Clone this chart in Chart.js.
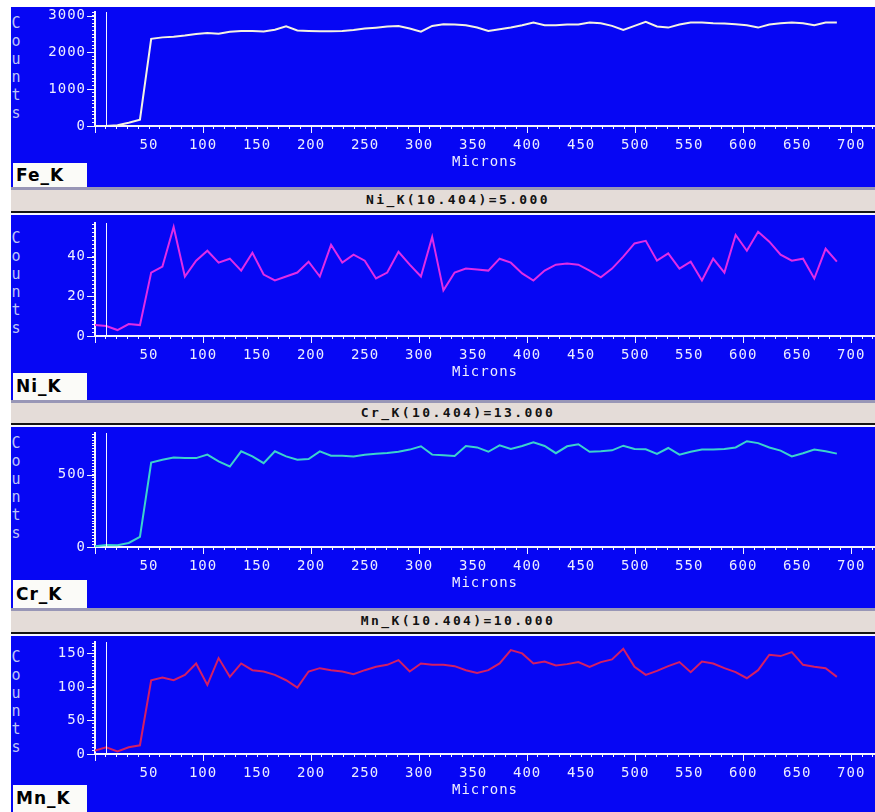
<!DOCTYPE html>
<html>
<head>
<meta charset="utf-8">
<script src="https://cdn.jsdelivr.net/npm/chart.js@4.4.0/dist/chart.umd.min.js"></script>
<style>
  body { margin: 0; background: #fff; width: 875px; height: 812px; position: relative; overflow: hidden; }
  .panel { position: absolute; left: 11px; width: 864px; background: #0606f4; }
  .panel canvas { position: absolute; left: 0; top: 0; }
  .counts { position: absolute; left: 0; width: 10px; font: 15px "DejaVu Sans Mono", monospace; line-height: 18px;
            color: #bcc2f4; text-align: center; white-space: pre; }
  .elem { position: absolute; left: 2px; bottom: 0; width: 74px; background: #fbfbf8; color: #000;
          font: bold 17px "DejaVu Sans", sans-serif; letter-spacing: 1px; padding-left: 3px; box-sizing: border-box; }
  .hdr { position: absolute; left: 11px; width: 864px; color: #121212; text-align: center;
         font: bold 13px "DejaVu Sans Mono", monospace; letter-spacing: 2.4px; box-sizing: border-box; padding-left: 30px;
         background: linear-gradient(to bottom, #9896b6 0 3px, #e4dcd8 3px calc(100% - 4px),
                     #141414 calc(100% - 4px) calc(100% - 2px), #f6f6ff calc(100% - 2px)); }
</style>
</head>
<body>
<script>
// sample positions along the line scan (microns)
const microns = [0, 10.4, 20.8, 31.2, 41.6, 52.0, 62.4, 72.8, 83.2, 93.6, 104.0, 114.4, 124.8, 135.3,
  145.7, 156.1, 166.5, 176.9, 187.3, 197.7, 208.1, 218.5, 228.9, 239.3, 249.7, 260.1, 270.5, 280.9,
  291.3, 301.7, 312.1, 322.5, 332.9, 343.3, 353.7, 364.1, 374.5, 384.9, 395.4, 405.8, 416.2, 426.6,
  437.0, 447.4, 457.8, 468.2, 478.6, 489.0, 499.4, 509.8, 520.2, 530.6, 541.0, 551.4, 561.8, 572.2,
  582.6, 593.0, 603.4, 613.8, 624.2, 634.6, 645.0, 655.4, 665.8, 676.3, 686.7];

const feK = [0, 0, 20, 90, 170, 2370, 2410, 2430, 2460, 2500, 2530, 2510, 2560, 2580, 2580, 2570, 2620,
  2710, 2600, 2585, 2575, 2575, 2585, 2612, 2650, 2675, 2705, 2720, 2650, 2566, 2720, 2767, 2760, 2740,
  2676, 2585, 2630, 2676, 2740, 2813, 2740, 2740, 2760, 2760, 2813, 2795, 2722, 2612, 2722, 2831, 2705,
  2676, 2760, 2813, 2813, 2795, 2786, 2767, 2740, 2676, 2760, 2795, 2813, 2795, 2740, 2813, 2813];

const niK = [5.5, 5, 3, 6, 5.5, 32, 35, 55, 30, 38, 43, 37, 39, 33, 42, 31, 28, 30, 32, 37.5, 30, 46,
  37, 41, 38, 29, 32, 42.5, 36, 30, 50, 23, 32, 34, 33.6, 33, 39, 37, 31.6, 28, 33, 36, 36.6, 36, 33,
  29.6, 34, 40, 46.7, 48, 38, 41.7, 34, 37.5, 28, 39, 32, 51, 43, 52.6, 47.6, 41, 38, 39, 29, 44, 37.5];

const crK = [5, 13, 12, 28, 70, 585, 605, 620, 616, 616, 640, 593, 558, 663, 628, 581, 663, 628, 605,
  610, 663, 633, 633, 628, 640, 647, 651, 660, 675, 698, 640, 635, 630, 700, 690, 660, 705, 680, 700,
  725, 700, 650, 698, 712, 660, 663, 670, 702, 679, 677, 645, 686, 640, 660, 675, 675, 679, 690, 733,
  720, 690, 668, 628, 650, 675, 663, 647];

const mnK = [5, 10, 4, 10, 13, 110, 114, 110, 118, 135, 103, 143, 115, 135, 125, 123, 118, 110, 99,
  123, 128, 125, 123, 119, 125, 130, 133, 140, 123, 135, 133, 133, 131, 125, 121, 125, 135, 155, 150,
  135, 138, 132, 134, 137, 130, 137, 141, 157, 130, 118, 124, 131, 137, 122, 138, 135, 128, 122, 113,
  125, 148, 146, 152, 133, 130, 128, 115];

const xLabels = [50, 100, 150, 200, 250, 300, 350, 400, 450, 500, 550, 600, 650, 700];
const feTicks = [0, 1000, 2000, 3000];
const niTicks = [0, 20, 40];
const crTicks = [0, 500];
const mnTicks = [0, 50, 100, 150];
const cursorMicrons = 10.404;
const headers = ['Ni_K(10.404)=5.000', 'Cr_K(10.404)=13.000', 'Mn_K(10.404)=10.000'];

const panels = [
  { name: 'Fe_K', data: feK, labels: feTicks, color: '#f4f2e2', max: 3100, step: 100, top: 7, h: 180, axis: 119, plot: 5, letters: 16, box: 24 },
  { name: 'Ni_K', data: niK, labels: niTicks, color: '#e02ce6', max: 57, step: 2, top: 215, h: 185, axis: 121, plot: 8, letters: 23, box: 27 },
  { name: 'Cr_K', data: crK, labels: crTicks, color: '#3cd2cc', max: 790, step: 20, top: 427, h: 181, axis: 120, plot: 6, letters: 16, box: 28 },
  { name: 'Mn_K', data: mnK, labels: mnTicks, color: '#d41e64', max: 167, step: 5, top: 636, h: 176, axis: 118, plot: 6, letters: 21, box: 27 },
];
const headerTops = [{ top: 187, h: 28 }, { top: 400, h: 27 }, { top: 608, h: 28 }];

const AXIS = '#f4f4ff';
const TEXT = '#ececff';
const MONO = '"DejaVu Sans Mono", monospace';

const axisDecor = {
  id: 'axisDecor',
  beforeDraw(chart) { chart.ctx.letterSpacing = '1px'; },
  afterDraw(chart, args, opts) {
    const { ctx, chartArea, scales: { x, y } } = chart;
    ctx.save();
    ctx.strokeStyle = AXIS;
    ctx.lineWidth = 1;
    ctx.beginPath();
    // cursor line
    const cx = Math.round(x.getPixelForValue(cursorMicrons)) + 0.5;
    ctx.moveTo(cx, chartArea.top);
    ctx.lineTo(cx, chartArea.bottom);
    // longer ticks at the labelled positions
    x.ticks.forEach((t) => {
      if (t.value % 100 === 0) {
        const px = Math.round(x.getPixelForValue(t.value)) + 0.5;
        ctx.moveTo(px, chartArea.bottom);
        ctx.lineTo(px, chartArea.bottom + 7);
      }
    });
    opts.yMajor.forEach((v) => {
      const py = Math.round(y.getPixelForValue(v)) + 0.5;
      ctx.moveTo(chartArea.left - 8, py);
      ctx.lineTo(chartArea.left, py);
    });
    ctx.stroke();
    ctx.restore();
  },
};

const xTickValues = [];
for (let v = 0; v <= 720; v += 10) xTickValues.push(v);

panels.forEach((p) => {
  const div = document.createElement('div');
  div.className = 'panel';
  div.style.top = p.top + 'px';
  div.style.height = p.h + 'px';
  document.body.appendChild(div);

  const letters = document.createElement('div');
  letters.className = 'counts';
  letters.style.top = (p.letters - 9) + 'px';
  letters.textContent = 'C\no\nu\nn\nt\ns';
  div.appendChild(letters);

  const canvas = document.createElement('canvas');
  canvas.width = 864;
  canvas.height = p.h;
  div.appendChild(canvas);

  const box = document.createElement('div');
  box.className = 'elem';
  box.style.height = p.box + 'px';
  box.style.lineHeight = p.box + 'px';
  box.textContent = p.name;
  div.appendChild(box);

  new Chart(canvas, {
    type: 'line',
    data: {
      datasets: [{
        data: microns.map((m, i) => ({ x: m, y: p.data[i] })),
        borderColor: p.color,
        borderWidth: 2,
        pointRadius: 0,
        tension: 0,
      }],
    },
    options: {
      responsive: false,
      animation: false,
      layout: { padding: { top: p.plot, bottom: p.h - p.axis - 45, left: 0, right: 0 } },
      plugins: {
        legend: { display: false },
        tooltip: { enabled: false },
        axisDecor: { yMajor: p.labels },
      },
      scales: {
        x: {
          type: 'linear',
          min: 0,
          max: 722,
          afterBuildTicks: (s) => { s.ticks = xTickValues.map((v) => ({ value: v })); },
          afterFit: (s) => { s.height = 45; s.paddingLeft = 0; s.paddingRight = 0; },
          border: { color: AXIS, width: 2 },
          grid: { drawOnChartArea: false, tickLength: 3, tickColor: AXIS, tickWidth: 1 },
          ticks: {
            autoSkip: false, maxRotation: 0, padding: 8, color: TEXT,
            font: { family: MONO, size: 14 },
            callback: (v) => (xLabels.includes(v) ? String(v) : ''),
          },
          title: { display: true, text: 'Microns', color: TEXT, font: { family: MONO, size: 14 }, padding: { top: 0, bottom: 0 } },
        },
        y: {
          min: 0,
          max: p.max,
          afterBuildTicks: (s) => {
            const t = [];
            for (let v = 0; v <= p.max; v += p.step) t.push({ value: v });
            s.ticks = t;
          },
          afterFit: (s) => { s.width = 84; s.paddingTop = 0; s.paddingBottom = 0; },
          border: { color: AXIS, width: 2 },
          grid: { drawOnChartArea: false, tickLength: 3, tickColor: AXIS, tickWidth: 1 },
          ticks: {
            autoSkip: false, padding: 6, color: TEXT,
            font: { family: MONO, size: 14 },
            callback: (v) => (p.labels.includes(v) ? String(v) : ''),
          },
        },
      },
    },
    plugins: [axisDecor],
  });
});

headers.forEach((text, i) => {
  const h = document.createElement('div');
  h.className = 'hdr';
  h.style.top = headerTops[i].top + 'px';
  h.style.height = headerTops[i].h + 'px';
  h.style.lineHeight = (headerTops[i].h - 2) + 'px';
  h.textContent = text;
  document.body.appendChild(h);
});
</script>
</body>
</html>
